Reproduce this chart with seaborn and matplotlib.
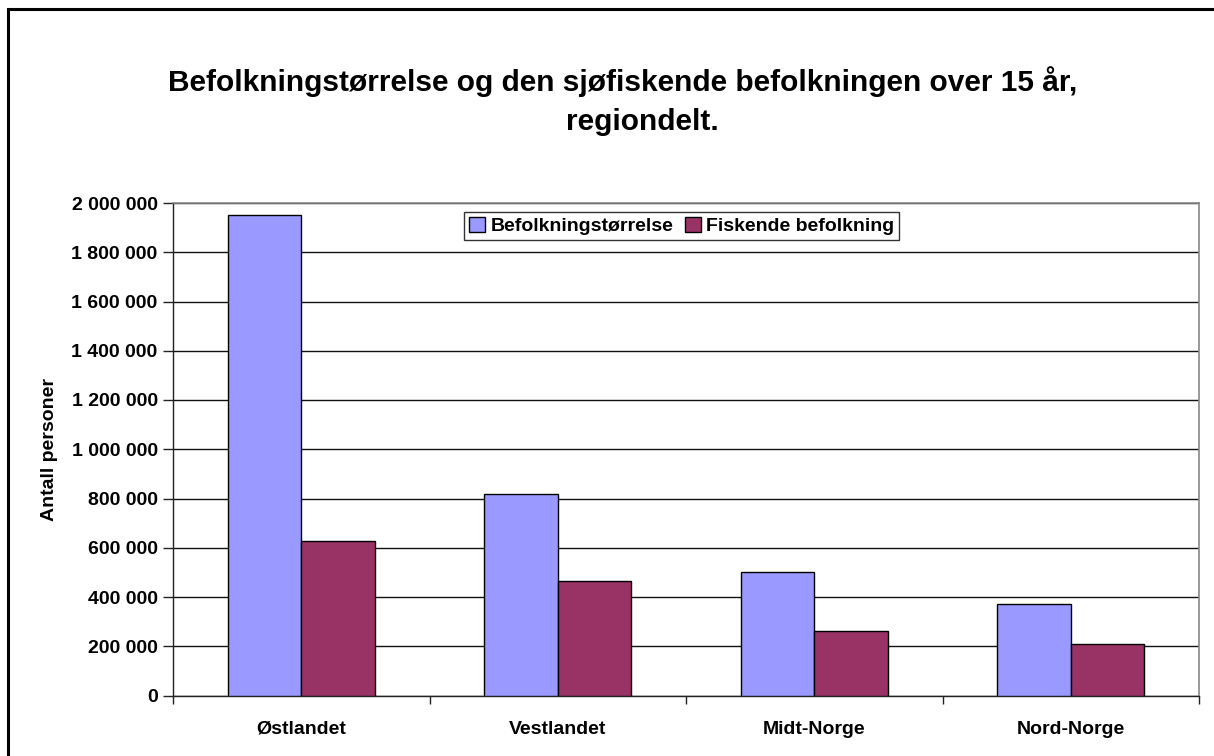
import matplotlib
matplotlib.use("Agg")
import matplotlib.pyplot as plt
import seaborn as sns
import pandas as pd
from matplotlib.patches import Rectangle
from matplotlib.ticker import FixedLocator, FuncFormatter

regions = ["Østlandet", "Vestlandet", "Midt-Norge", "Nord-Norge"]
befolkning = [1950000, 818000, 501000, 372000]
fiskende = [627000, 465000, 262000, 209000]
series = ["Befolkningstørrelse", "Fiskende befolkning"]
colors = ["#9999FF", "#993366"]

df = pd.DataFrame({
    "region": regions * 2,
    "serie": [series[0]] * 4 + [series[1]] * 4,
    "antall": befolkning + fiskende,
})

sns.set_style("white")
plt.rcParams["font.family"] = ["Liberation Sans", "DejaVu Sans"]
plt.rcParams["font.weight"] = "bold"
for k in ["text.color", "axes.labelcolor", "xtick.color", "ytick.color"]:
    plt.rcParams[k] = "black"

fig = plt.figure(figsize=(12.14, 7.56), dpi=100)
ax = fig.add_axes([173 / 1214, 1 - 695.5 / 756, (1199 - 173) / 1214, (695.5 - 203) / 756])

sns.barplot(data=df, x="region", y="antall", hue="serie", palette=colors,
            width=2 / 3.5, edgecolor="black", linewidth=1.0, ax=ax, zorder=3,
            saturation=1)

ax.set_ylim(0, 2000000)
ax.set_xlim(-0.5, 3.5)
ax.yaxis.set_major_locator(FixedLocator(range(0, 2000001, 200000)))
ax.yaxis.set_major_formatter(FuncFormatter(lambda v, p: f"{int(v):,}".replace(",", " ")))
ax.grid(axis="y", color="#111111", linewidth=1.0, zorder=0)
ax.set_axisbelow(True)

ax.tick_params(axis="y", which="major", direction="out", length=7, width=1, color="#222222",
               labelsize=14, pad=4, left=True)
ax.tick_params(axis="x", which="major", length=0, labelsize=14, pad=18)
ax.set_xticks([-0.5, 0.5, 1.5, 2.5, 3.5], minor=True)
ax.tick_params(axis="x", which="minor", direction="out", length=6, width=1, color="#222222", bottom=True)
for lab in ax.get_xticklabels() + ax.get_yticklabels():
    lab.set_fontweight("bold")

ax.set_xlabel("")
ax.set_ylabel("Antall personer", fontsize=14, fontweight="bold")
ax.yaxis.set_label_coords(-0.112, 0.5)

for side in ["left", "bottom"]:
    ax.spines[side].set_color("#222222")
    ax.spines[side].set_linewidth(1.0)
for side in ["right", "top"]:
    ax.spines[side].set_visible(True)
    ax.spines[side].set_color("#888888")
    ax.spines[side].set_linewidth(1.2)

handles, labels = ax.get_legend_handles_labels()
leg = ax.legend(handles, labels, ncol=2, loc="upper center", bbox_to_anchor=(0.496, 0.981),
                frameon=True, fancybox=False, edgecolor="black", fontsize=14,
                handlelength=0.8, handleheight=0.8, handletextpad=0.3, columnspacing=0.6,
                borderpad=0.25, borderaxespad=0)
leg.get_frame().set_linewidth(1.0)
for t in leg.get_texts():
    t.set_fontweight("bold")
leg.set_zorder(5)

fig.text(622.5 / 1214, 1 - 91 / 756, "Befolkningstørrelse og den sjøfiskende befolkningen over 15 år,",
         ha="center", va="baseline", fontsize=21.5, fontweight="bold")
fig.text(642 / 1214, 1 - 130 / 756, "regiondelt.",
         ha="center", va="baseline", fontsize=21.5, fontweight="bold")

fig.patches.append(Rectangle((8 / 1214, -0.1), 1.2, 1.1 - 9 / 756, transform=fig.transFigure,
                             fill=False, edgecolor="black", linewidth=2.2, figure=fig))

fig.savefig("out.png", dpi=100, facecolor="white")
